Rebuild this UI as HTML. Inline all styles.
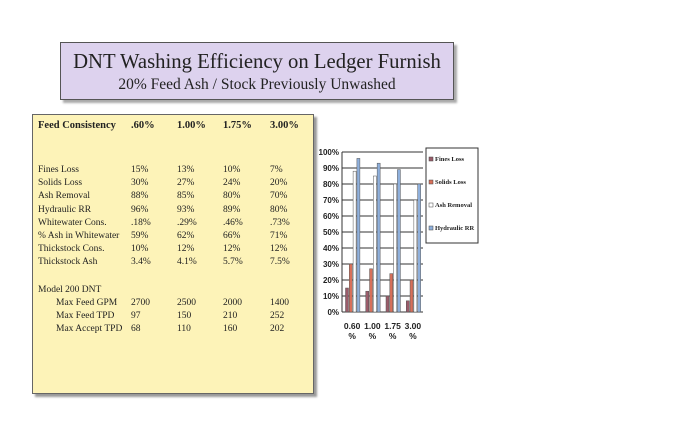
<!DOCTYPE html>
<html><head><meta charset="utf-8"><style>
body{margin:0;width:700px;height:425px;background:#fff;position:relative;overflow:hidden;font-family:"Liberation Serif",serif;color:#222}
.abs{position:absolute}
#title{left:60px;top:42px;width:392px;height:56px;background:#ddd2ee;border:1px solid #555;box-shadow:3px 3px 2px #aaa;text-align:center;white-space:nowrap}
#tbl{left:32px;top:114px;width:280px;height:278px;background:#fdf3b8;border:1px solid #666;box-shadow:3px 3px 2px #999}
.c{position:absolute;font-size:9.5px;white-space:nowrap}
.h{font-weight:bold;font-size:10.5px}
</style></head><body>
<div id="title" class="abs">
<div style="font-size:20.7px;margin-top:7px;line-height:25px">DNT Washing Efficiency on Ledger Furnish</div>
<div style="font-size:15.5px;line-height:19px">20% Feed Ash / Stock Previously Unwashed</div>
</div>
<div id="tbl" class="abs"></div>
<svg class="abs" style="left:0;top:0" width="700" height="425" id="chart"></svg>
<script>
const rows=[["Fines Loss","15%","13%","10%","7%"],["Solids Loss","30%","27%","24%","20%"],["Ash Removal","88%","85%","80%","70%"],["Hydraulic RR","96%","93%","89%","80%"],["Whitewater Cons.",".18%",".29%",".46%",".73%"],["% Ash in Whitewater","59%","62%","66%","71%"],["Thickstock Cons.","10%","12%","12%","12%"],["Thickstock Ash","3.4%","4.1%","5.7%","7.5%"]];
const rows2=[["Max Feed GPM","2700","2500","2000","1400"],["Max Feed TPD","97","150","210","252"],["Max Accept TPD","68","110","160","202"]];
const tbl=document.getElementById('tbl');
const colX=[5,98,144,190,237];
function cell(txt,x,y,cls){const d=document.createElement('div');d.className='c '+(cls||'');d.style.left=x+'px';d.style.top=y+'px';d.textContent=txt;


tbl.appendChild(d);}
["Feed Consistency",".60%","1.00%","1.75%","3.00%"].forEach((t,i)=>cell(t,colX[i],5,'h'));
rows.forEach((r,j)=>r.forEach((t,i)=>cell(t,colX[i],50+j*13.2)));
cell("Model 200 DNT",5,170);
rows2.forEach((r,j)=>r.forEach((t,i)=>cell(t,i==0?23:colX[i],183+j*13.2)));

const cats=["0.60","1.00","1.75","3.00"];
const fines=[15,13,10,7],solids=[30,27,24,20],ash=[88,85,80,70],hyd=[96,93,89,80];
const series=[fines,solids,ash,hyd];
const names=["Fines Loss","Solids Loss","Ash Removal","Hydraulic RR"];
const colors=["#9a5c6a","#d8705a","#ffffff","#8fb0dc"];
const ticks=[0,10,20,30,40,50,60,70,80,90,100];
const svg=document.getElementById('chart'),NS="http://www.w3.org/2000/svg";
const x0=342,x1=423,yTop=152,yBot=312;
const y=v=>yBot-(v/100)*(yBot-yTop);
const cw=(x1-x0)/cats.length;
function el(t,a,p){const e=document.createElementNS(NS,t);for(const k in a)e.setAttribute(k,a[k]);(p||svg).appendChild(e);return e;}
ticks.forEach(t=>{const l=el('line',{x1:x0,x2:x1,y1:y(t),y2:y(t),stroke:'#333','stroke-width':1});


const tx=el('text',{x:x0-3,y:y(t)+3,'text-anchor':'end','font-size':8,'font-weight':'bold','font-family':'Liberation Sans, sans-serif',fill:'#222'});tx.textContent=t+'%';

});
el('line',{x1:x0,x2:x0,y1:yTop,y2:yBot,stroke:'#333'});
cats.forEach((c,i)=>{
  series.forEach((s,k)=>{const bx=x0+i*cw+3.5+k*3.8;
    const r=el('rect',{x:bx,y:y(s[i]),width:3,height:yBot-y(s[i]),fill:colors[k],stroke:'#555','stroke-width':0.5});
    
    });
  const cx=x0+(i+0.5)*cw;
  const t1=el('text',{x:cx,y:329,'text-anchor':'middle','font-size':8.5,'font-weight':'bold','font-family':'Liberation Sans, sans-serif',fill:'#222'});t1.textContent=c;
  
  
  const t2=el('text',{x:cx,y:339,'text-anchor':'middle','font-size':8.5,'font-weight':'bold','font-family':'Liberation Sans, sans-serif',fill:'#222'});t2.textContent='%';
  
  
});
const lg=el('rect',{x:426,y:148,width:52,height:95,fill:'#fff',stroke:'#333'});


names.forEach((n,k)=>{const ly=161+k*23;
  const s=el('rect',{x:429,y:ly-4,width:4,height:4,fill:colors[k],stroke:'#444','stroke-width':0.5});
  
  
  const t=el('text',{x:435,y:ly,'font-size':6.5,'font-weight':'bold','font-family':'Liberation Serif, serif',fill:'#222'});t.textContent=n;
  
  });
</script>
</body></html>
